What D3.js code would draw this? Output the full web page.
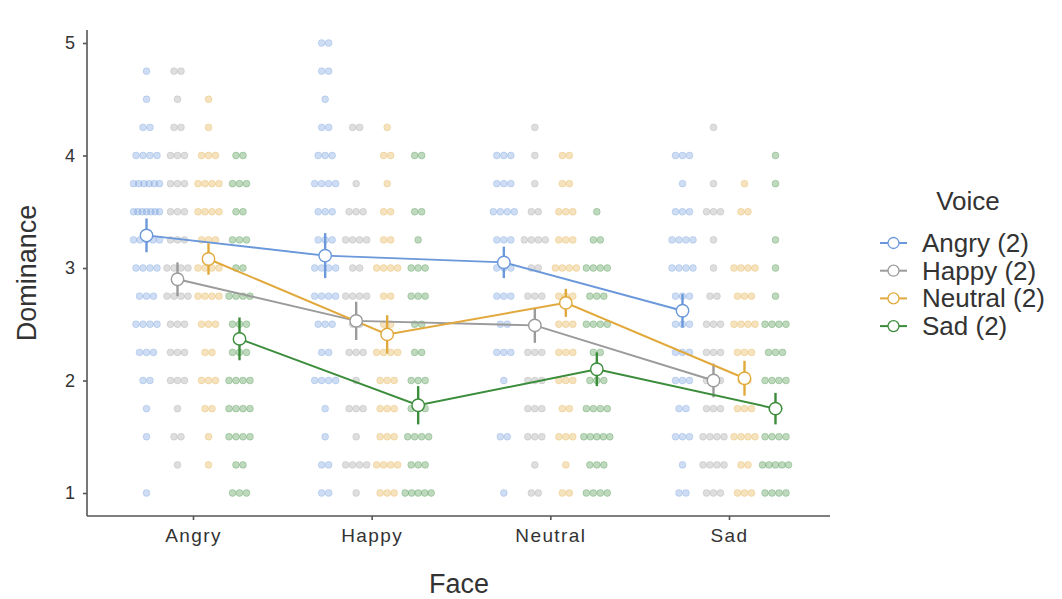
<!DOCTYPE html>
<html lang="en">
<head>
    <meta charset="UTF-8">
    <title>Dominance by Face and Voice</title>
    <style>
        body { margin: 0; background: #fff; }
        svg { display: block; font-family: "Liberation Sans", Arial, sans-serif; }
        .tick-x text { font-size: 19px; letter-spacing: 1.4px; fill: #333; }
        .tick-y text { font-size: 18px; fill: #333; }
        .axis-title { font-size: 27px; fill: #333; }
        .legend text { font-size: 26px; fill: #333; }
    </style>
</head>
<body>
    <svg width="1062" height="599"></svg>
    <script src="https://cdn.jsdelivr.net/npm/d3@7"></script>
    <script>
        const faces = ["Angry", "Happy", "Neutral", "Sad"];
        const voices = ["Angry", "Happy", "Neutral", "Sad"];
        const voiceLabels = ["Angry (2)", "Happy (2)", "Neutral (2)", "Sad (2)"];
        const colors = ["#6a98da", "#9b9b9b", "#e1a93c", "#3b8c3b"];
        const yTicks = [1, 2, 3, 4, 5];

        // rating levels (1 .. 5 in steps of .25)
        const levels = [1, 1.25, 1.5, 1.75, 2, 2.25, 2.5, 2.75, 3, 3.25, 3.5, 3.75, 4, 4.25, 4.5, 4.75, 5];

        // number of ratings at each level; one row per voice (Angry, Happy, Neutral, Sad)
        const countsAngryFace = [
            [1, 0, 1, 1, 2, 3, 4, 3, 4, 5, 7, 6, 4, 2, 1, 1, 0],
            [0, 1, 2, 1, 3, 3, 3, 4, 4, 3, 3, 3, 3, 2, 1, 2, 0],
            [0, 1, 1, 2, 3, 2, 3, 4, 4, 3, 4, 4, 3, 1, 1, 0, 0],
            [3, 2, 4, 4, 4, 3, 3, 4, 2, 3, 2, 3, 2, 0, 0, 0, 0]
        ];
        const countsHappyFace = [
            [2, 2, 1, 1, 4, 2, 3, 4, 4, 3, 3, 4, 3, 2, 1, 2, 2],
            [1, 4, 1, 3, 1, 3, 2, 4, 2, 4, 3, 1, 0, 2, 0, 0, 0],
            [3, 4, 3, 3, 3, 4, 2, 2, 4, 2, 2, 1, 2, 1, 0, 0, 0],
            [5, 3, 4, 3, 3, 2, 2, 3, 3, 1, 2, 0, 2, 0, 0, 0, 0]
        ];
        const countsNeutralFace = [
            [1, 0, 2, 0, 1, 3, 2, 3, 3, 3, 4, 3, 3, 0, 0, 0, 0],
            [2, 1, 3, 3, 3, 3, 1, 3, 2, 4, 2, 1, 1, 1, 0, 0, 0],
            [2, 1, 3, 2, 3, 3, 3, 3, 4, 3, 3, 2, 2, 0, 0, 0, 0],
            [4, 3, 5, 4, 3, 2, 4, 3, 4, 2, 1, 0, 0, 0, 0, 0, 0]
        ];
        const countsSadFace = [
            [2, 1, 3, 2, 3, 3, 3, 3, 4, 4, 3, 1, 3, 0, 0, 0, 0],
            [3, 4, 4, 3, 3, 3, 3, 2, 1, 1, 3, 1, 0, 1, 0, 0, 0],
            [3, 2, 4, 3, 2, 3, 4, 3, 4, 0, 2, 1, 0, 0, 0, 0, 0],
            [4, 5, 4, 2, 4, 3, 4, 1, 1, 1, 0, 1, 1, 0, 0, 0, 0]
        ];
        const countsByFace = [countsAngryFace, countsHappyFace, countsNeutralFace, countsSadFace];

        // means per voice across faces (Angry, Happy, Neutral, Sad face)
        const meanAngryVoice = [3.29, 3.11, 3.05, 2.62];
        const meanHappyVoice = [2.90, 2.53, 2.49, 2.00];
        const meanNeutralVoice = [3.08, 2.41, 2.69, 2.02];
        const meanSadVoice = [2.37, 1.78, 2.10, 1.75];
        const means = [meanAngryVoice, meanHappyVoice, meanNeutralVoice, meanSadVoice];

        // error bar half widths
        const errAngryVoice = [0.15, 0.20, 0.14, 0.15];
        const errHappyVoice = [0.15, 0.17, 0.155, 0.15];
        const errNeutralVoice = [0.14, 0.17, 0.125, 0.155];
        const errSadVoice = [0.19, 0.17, 0.15, 0.14];
        const errs = [errAngryVoice, errHappyVoice, errNeutralVoice, errSadVoice];

        const svg = d3.select("svg");

        const x = d3.scalePoint().domain(faces).range([193, 729]);
        const dodge = d3.scaleBand().domain(voices).range([-62, 62]);
        const y = d3.scaleLinear().domain([1, 5]).range([493, 43]);
        const color = d3.scaleOrdinal().domain(voices).range(colors);

        const xPos = (f, v) => x(f) + dodge(v) + dodge.bandwidth() / 2;

        // raw ratings
        const dots = [];
        faces.forEach((f, fi) => {
            voices.forEach((v, vi) => {
                countsByFace[fi][vi].forEach((k, li) => {
                    const w = Math.min(26, 7 * (k - 1));
                    for (let i = 0; i < k; i++) {
                        const off = k === 1 ? 0 : -w / 2 + i * w / (k - 1);
                        dots.push({ face: f, voice: v, value: levels[li], off });
                    }
                });
            });
        });

        svg.append("g")
            .selectAll("circle")
            .data(dots)
            .join("circle")
            .attr("cx", d => xPos(d.face, d.voice) + d.off)
            .attr("cy", d => y(d.value))
            .attr("r", 3.4)
            .attr("fill", d => color(d.voice))
            .attr("fill-opacity", 0.33)
            .attr("stroke", d => color(d.voice))
            .attr("stroke-opacity", 0.35)
            .attr("stroke-width", 0.8);

        // axes
        const axisColor = "#555";
        const yAxis = svg.append("g")
            .attr("class", "tick-y")
            .attr("transform", "translate(87,0)")
            .call(d3.axisLeft(y).tickValues(yTicks).tickFormat(d3.format("d")).tickSize(4).tickPadding(8));
        yAxis.select(".domain").attr("d", "M0,30V516");

        const xAxis = svg.append("g")
            .attr("class", "tick-x")
            .attr("transform", "translate(0,516)")
            .call(d3.axisBottom(x).tickSize(4).tickPadding(9));
        xAxis.select(".domain").attr("d", "M87,0H830");

        svg.selectAll(".tick-x .domain, .tick-y .domain, .tick-x line, .tick-y line")
            .attr("stroke", axisColor).attr("stroke-width", 1.6);
        svg.selectAll(".tick-x text, .tick-y text").attr("fill", "#333");
        xAxis.attr("font-size", null).attr("font-family", null);
        yAxis.attr("font-size", null).attr("font-family", null);

        svg.append("text")
            .attr("class", "axis-title")
            .attr("x", 459).attr("y", 593)
            .attr("text-anchor", "middle")
            .text("Face");

        svg.append("text")
            .attr("class", "axis-title")
            .attr("transform", "translate(36,273) rotate(-90)")
            .attr("text-anchor", "middle")
            .text("Dominance");

        // mean lines, error bars, points
        const line = d3.line()
            .x(d => xPos(d.face, d.voice))
            .y(d => y(d.mean));

        voices.forEach((v, vi) => {
            const pts = faces.map((f, fi) => ({ face: f, voice: v, mean: means[vi][fi], err: errs[vi][fi] }));
            const g = svg.append("g");
            g.append("path")
                .datum(pts)
                .attr("d", line)
                .attr("fill", "none")
                .attr("stroke", color(v))
                .attr("stroke-width", 2);
            g.selectAll("line")
                .data(pts)
                .join("line")
                .attr("x1", d => xPos(d.face, d.voice))
                .attr("x2", d => xPos(d.face, d.voice))
                .attr("y1", d => y(d.mean - d.err))
                .attr("y2", d => y(d.mean + d.err))
                .attr("stroke", color(v))
                .attr("stroke-width", 2.4);
        });

        voices.forEach((v, vi) => {
            svg.append("g")
                .selectAll("circle")
                .data(faces.map((f, fi) => ({ face: f, voice: v, mean: means[vi][fi] })))
                .join("circle")
                .attr("cx", d => xPos(d.face, d.voice))
                .attr("cy", d => y(d.mean))
                .attr("r", 6.2)
                .attr("fill", "#fff")
                .attr("stroke", color(v))
                .attr("stroke-width", 1.4);
        });

        // legend
        const legend = svg.append("g").attr("class", "legend");
        legend.append("text")
            .attr("x", 968).attr("y", 210)
            .attr("text-anchor", "middle")
            .text("Voice");

        const item = legend.selectAll(".item")
            .data(voices)
            .join("g")
            .attr("class", "item")
            .attr("transform", (d, i) => `translate(0,${243 + i * 27.7})`);
        item.append("line")
            .attr("x1", 880).attr("x2", 907)
            .attr("stroke", d => color(d))
            .attr("stroke-width", 2);
        item.append("circle")
            .attr("cx", 893.5).attr("r", 5.5)
            .attr("fill", "#fff")
            .attr("stroke", d => color(d))
            .attr("stroke-width", 1.3);
        item.append("text")
            .attr("x", 922).attr("y", 9)
            .text((d, i) => voiceLabels[i]);
    </script>
</body>
</html>
